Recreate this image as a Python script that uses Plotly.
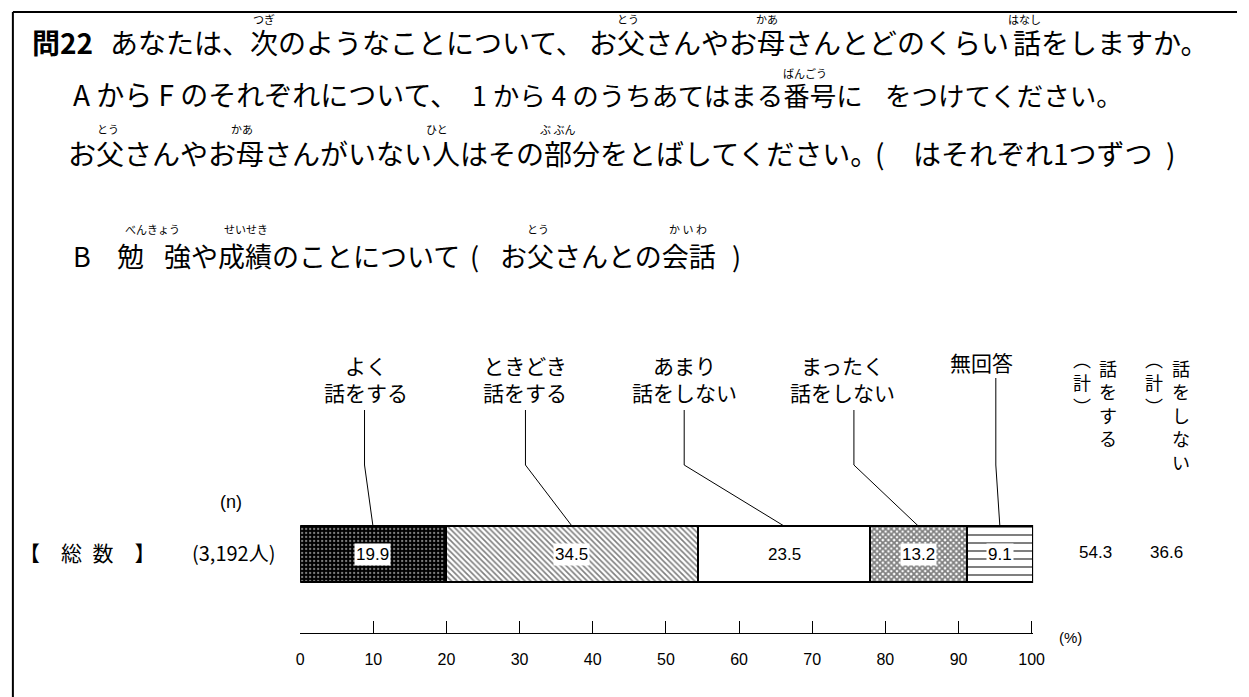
import plotly.graph_objects as go

W, H = 1249, 697

categories = ["よく<br>話をする", "ときどき<br>話をする", "あまり<br>話をしない", "まったく<br>話をしない", "無回答"]
values = [19.9, 34.5, 23.5, 13.2, 9.1]
group_label = "【\u3000総\u2002数\u3000】"
n_label = "(3,192人)"
total_headers = ["︵<br>計<br>︶", "話<br>を<br>す<br>る", "︵<br>計<br>︶", "話<br>を<br>し<br>な<br>い"]
total_values = [54.3, 36.6]
tick_vals = [0, 10, 20, 30, 40, 50, 60, 70, 80, 90, 100]

patterns = [
    dict(shape=".", fgcolor="white", bgcolor="black", size=4, solidity=0.25),
    dict(shape="\\", fgcolor="black", bgcolor="white", size=4, solidity=0.4),
    dict(shape="", fgcolor="black", bgcolor="white"),
    dict(shape="x", fgcolor="black", bgcolor="white", size=4, solidity=0.7),
    dict(shape="-", fgcolor="black", bgcolor="white", size=8, solidity=0.25),
]
fills = ["black", "white", "white", "white", "white"]

JP = "Noto Sans CJK JP"
NUM = "Liberation Sans"


def px(x):
    return x / W


def py(y):
    return 1 - y / H


fig = go.Figure()
for cat, val, pat, fill in zip(categories, values, patterns, fills):
    fig.add_trace(go.Bar(
        x=[val], y=[0], orientation="h", name=cat, width=0.7,
        marker=dict(color=fill, pattern=pat, line=dict(color="black", width=2)),
        cliponaxis=False, hoverinfo="skip",
    ))

annotations = []
shapes = []

# value labels in white boxes
cum = 0
mids = []
for val in values:
    mid = cum + val / 2
    mids.append(mid)
    annotations.append(dict(x=mid, y=0, xref="x", yref="y", text=f"{val:.1f}",
                            bgcolor="white", borderpad=1,
                            font=dict(family=NUM, size=17)))
    cum += val

# category labels and leader lines
label_x = [9.0, 30.7, 52.5, 74.2, 93.1]
line_x = [8.8, 30.8, 52.5, 75.7, 95.1]
for i, cat in enumerate(categories):
    two_line = "<br>" in cat
    annotations.append(dict(x=label_x[i], y=py(379 if two_line else 362), xref="x", yref="paper",
                            text=cat, font=dict(family=JP, size=21)))
    top = 410 if two_line else 378
    shapes.append(dict(type="path", xref="x", yref="paper",
                       path=f"M {line_x[i]},{py(top)} L {line_x[i]},{py(465)} L {mids[i]},{py(526)}",
                       line=dict(color="black", width=1)))

# totals columns
header_x = [1092, 1118, 1165, 1192]
header_top = [344, 353, 344, 353]
for hx, ht, txt in zip(header_x, header_top, total_headers):
    annotations.append(dict(x=px(hx), y=py(ht), yanchor="top", text=txt,
                            font=dict(family=JP, size=18)))
for tx, tv in zip([1106, 1178], total_values):
    annotations.append(dict(x=px(tx), y=py(552), text=f"{tv:.1f}",
                            font=dict(family=NUM, size=17)))

# left labels
annotations += [
    dict(x=px(13), y=py(552), xanchor="left", text=group_label, font=dict(family=JP, size=21)),
    dict(x=px(232), y=py(552), text=n_label, font=dict(family=JP, size=20)),
    dict(x=px(230), y=py(502), text="(n)", font=dict(family=NUM, size=18)),
    dict(x=px(1080), y=py(637), text="(%)", font=dict(family=NUM, size=15)),
]

# question text, placed in pieces: (left x, centre y, font size, text)
title_rows = [
    (26, 42, 28, "<b>問22</b>"),
    (105, 42, 28, "あなたは、次のようなことについて、"),
    (591, 42, 28, "お父さんやお母さんとどのくらい"),
    (1020, 42, 28, "話をしますか。"),
    (68, 94, 28, "A から F のそれぞれについて、"),
    (472, 94, 26.5, "1 から 4 のうちあてはまる番号に"),
    (890, 94, 26.5, "をつけてください。"),
    (63, 153, 28, "お父さんやお母さんがいない人はその部分をとばしてください。"),
    (880, 153, 28, "("),
    (919, 153, 28, "はそれぞれ1つずつ"),
    (1175, 153, 28, ")"),
    (68, 255, 27, "B"),
    (112, 255, 27, "勉"),
    (160, 255, 27, "強や成績のことについて"),
    (470, 255, 27, "("),
    (500, 255, 27, "お父さんとの会話"),
    (735, 255, 27, ")"),
]
for x, y, size, txt in title_rows:
    annotations.append(dict(x=px(x), y=py(y), xanchor="left", text=txt,
                            font=dict(family=JP, size=size)))

ruby = [
    (263, 19, "つぎ"), (632, 19, "とう"), (773, 19, "かあ"), (1034, 19, "はなし"),
    (811, 73, "ばんごう"),
    (105, 129, "とう"), (241, 129, "かあ"), (439, 129, "ひと"), (561, 129, "ぶ ぶん"),
    (150, 229, "べんきょう"), (245, 229, "せいせき"), (541, 229, "とう"), (693, 229, "か い わ"),
]
for x, y, txt in ruby:
    annotations.append(dict(x=px(x), y=py(y), text=txt, font=dict(family=JP, size=11)))

for a in annotations:
    a.setdefault("xref", "paper")
    a.setdefault("yref", "paper")
    a.setdefault("xanchor", "center")
    a.setdefault("yanchor", "middle")
    a["showarrow"] = False
    a["font"]["color"] = "black"

# frame
shapes += [
    dict(type="line", xref="paper", yref="paper", x0=px(9), x1=1, y0=py(12), y1=py(12),
         line=dict(color="black", width=2)),
    dict(type="line", xref="paper", yref="paper", x0=px(9), x1=px(9), y0=py(12), y1=0,
         line=dict(color="black", width=2)),
]

fig.update_layout(
    width=W, height=H,
    margin=dict(l=0, r=0, t=0, b=0),
    paper_bgcolor="white", plot_bgcolor="white",
    barmode="stack", showlegend=False,
    annotations=annotations, shapes=shapes,
    xaxis=dict(domain=[px(300), px(300 + 100.2 * 7.41)], range=[0, 100.2],
               tickvals=tick_vals, ticks="inside", ticklen=12, tickcolor="black",
               showline=True, linecolor="black", linewidth=1, showgrid=False, zeroline=False,
               tickfont=dict(family=NUM, size=16, color="black"), ticklabelstandoff=12),
    yaxis=dict(domain=[py(633), py(475)], range=[-1, 1], visible=False),
)

fig.write_html("out.html", config={"displayModeBar": False, "responsive": False},
               post_script="document.body.style.margin='0';"
                           "document.body.style.overflow='hidden';"
                           "document.documentElement.style.overflow='hidden';")
